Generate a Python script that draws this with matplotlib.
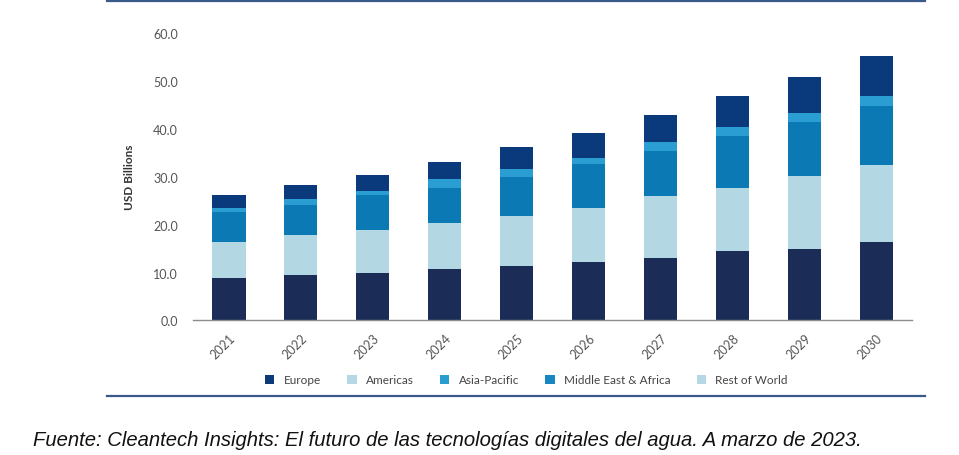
import matplotlib
matplotlib.use("Agg")
import matplotlib.pyplot as plt
from matplotlib.lines import Line2D
from matplotlib.patches import Patch
import numpy as np

years = ["2021", "2022", "2023", "2024", "2025", "2026", "2027", "2028", "2029", "2030"]
seg_bottom = [8.9, 9.4, 9.9, 10.8, 11.4, 12.2, 13.0, 14.6, 15.0, 16.4]
seg_light = [7.4, 8.5, 8.9, 9.5, 10.5, 11.3, 12.9, 13.1, 15.1, 16.0]
seg_medium = [6.3, 6.3, 7.3, 7.4, 8.1, 9.1, 9.4, 10.8, 11.3, 12.3]
seg_thin = [0.9, 1.2, 1.0, 1.8, 1.7, 1.4, 1.9, 1.8, 1.9, 2.2]
seg_top = [2.6, 2.9, 3.3, 3.6, 4.4, 5.1, 5.6, 6.5, 7.5, 8.2]

legend_labels = ["Europe", "Americas", "Asia-Pacific", "Middle East & Africa", "Rest of World"]
legend_colors = ["#0d3b7a", "#b5d8e4", "#2a9dd0", "#1787c2", "#b5d8e4"]
seg_colors = ["#1b2d56", "#b3d7e3", "#0a79b4", "#2a9dd3", "#0b3a7c"]

fig = plt.figure(figsize=(9.59, 4.56), dpi=100)
ax = fig.add_axes([0.2013, 0.295, 0.750, 0.6305])

x = np.arange(len(years))
bottom = np.zeros(len(years))
for vals, col in zip([seg_bottom, seg_light, seg_medium, seg_thin, seg_top], seg_colors):
    ax.bar(x, vals, width=0.46, bottom=bottom, color=col, linewidth=0)
    bottom += np.array(vals)

ax.set_xlim(-0.5, 9.5)
ax.set_ylim(0, 60)
ax.set_yticks(np.arange(0, 61, 10))
ax.set_yticklabels([f"{v:.1f}" for v in np.arange(0, 61, 10)])
ax.set_xticks(x)
ax.set_xticklabels(years, rotation=45, ha="right", rotation_mode="anchor")
ax.tick_params(axis="both", length=0, labelsize=9, labelcolor="#555555")
ax.tick_params(axis="y", pad=11)
ax.tick_params(axis="x", pad=8)
for t in ax.get_xticklabels() + ax.get_yticklabels():
    t.set_family("Lato")
for s in ["top", "right", "left"]:
    ax.spines[s].set_visible(False)
ax.spines["bottom"].set_color("#8c8c8c")
ax.spines["bottom"].set_linewidth(1.0)
ax.set_ylabel("USD Billions", fontsize=8.5, fontweight="bold", color="#333333",
              family="Lato", labelpad=13)

handles = [Patch(facecolor=c, edgecolor="none") for c in legend_colors]
fig.legend(handles, legend_labels, loc="center", bbox_to_anchor=(0.549, 0.165),
           ncol=5, frameon=False, prop={"family": "Lato", "size": 8.5},
           handlelength=0.8, handleheight=0.8, columnspacing=2.2, handletextpad=0.8,
           labelcolor="#444444")

fig.add_artist(Line2D([0.112, 0.965], [0.996, 0.996], color="#3a5888", lw=1.6))
fig.add_artist(Line2D([0.112, 0.965], [0.129, 0.129], color="#3a5888", lw=1.6))

fig.text(0.034, 0.022, "Fuente: Cleantech Insights: El futuro de las tecnologías digitales del agua. A marzo de 2023.",
         fontsize=14.6, style="italic", family="Liberation Sans", color="#111111",
         ha="left", va="baseline")

fig.savefig("out.png", dpi=100)
